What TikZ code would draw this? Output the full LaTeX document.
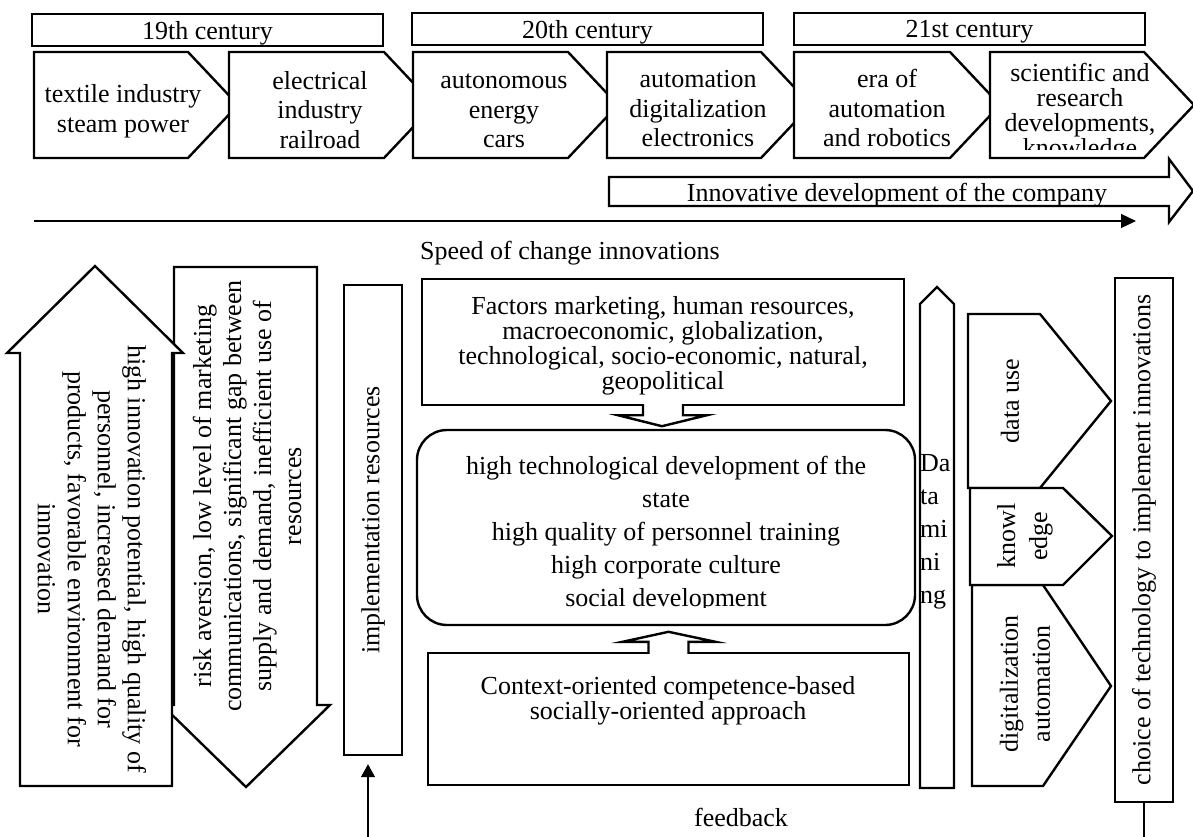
\documentclass[tikz,border=0pt]{standalone}
\usepackage{fontspec}
\usepackage{graphicx}
\setmainfont{Liberation Serif}
\usetikzlibrary{arrows.meta}
\newcommand{\fs}[1]{\fontsize{26}{#1}\selectfont}

\begin{document}
\begin{tikzpicture}
  [x=1pt, y=-1pt, line width=2.4pt,
   every node/.style={font=\fs{29.5}, align=center, inner sep=0pt},
   box/.style={draw, fill=white},
   fine/.style={line width=1.2pt}]
  \useasboundingbox (0,0) rectangle (1193,837);

  % centuries
  \node[box, minimum width=351, minimum height=32, text depth=0pt] (c19) at (207.5,30) {19th century};
  \node[box, minimum width=351, minimum height=32, text depth=0pt] (c20) at (587.5,29) {20th century};
  \node[box, minimum width=351, minimum height=32, text depth=0pt] (c21) at (969.5,29) {21st century};

  % eras
  \foreach \l/\r in {34/188, 229/384, 413/568, 607/761, 794/950, 990/1144}
    \draw[box] (\l,52) -- (\r,52) -- ({\r+50},105) -- (\r,158) -- (\l,158) -- cycle;
  \node (e1) at (123,111) {textile industry\\steam power};
  \node (e2) at (320,110) {electrical\\industry\\railroad};
  \node (e3) at (504,111) {autonomous\\energy\\cars};
  \node (e4) at (698,109) {automation\\digitalization\\electronics};
  \node (e5) at (887,108) {era of\\automation\\and robotics};
  \begin{scope}
    \clip (990,52) rectangle (1180,150);
    \node[font=\fs{25}] (e6) at (1080,113) {scientific and\\research\\developments,\\knowledge};
  \end{scope}

  % company
  \draw[box] (609,177) -- (1169,177) -- (1169,159) -- (1193,191) -- (1169,222) -- (1169,206) -- (609,206) -- cycle;
  \node (inno) at (897,195) {Innovative development of the company};

  % speed
  \coordinate (sp0) at (34,221);
  \coordinate (sp1) at (1136,221);
  \draw[fine, -{Triangle[length=15pt, width=14pt]}] (sp0) -- (sp1);
  \node (speed) at (570,253) {Speed of change innovations};

  % risk arrow, then potential arrow on top
  \draw[box] (174,267) -- (317,267) -- (317,705) -- (330,705) -- (246,787) -- (162,705) -- (174,705) -- cycle;
  \node[rotate=90, font=\fs{30}] (risk) at (247,496) {risk aversion, low level of marketing\\communications, significant gap between\\supply and demand, inefficient use of\\resources};
  \draw[box] (20,786) -- (20,353) -- (7,353) -- (95,266) -- (183,353) -- (172,353) -- (172,786) -- cycle;
  \node[rotate=-90, font=\fs{30}] (pot) at (92,559) {high innovation potential, high quality of\\personnel, increased demand for\\products, favorable environment for\\innovation};

  % implementation
  \node[box, minimum width=58, minimum height=470] (impl) at (373,520) {\rotatebox{90}{implementation resources}};
  \coordinate (fb0) at (368,837);
  \draw[fine, -{Triangle[length=13pt, width=14pt]}, shorten >=8pt] (fb0) -- (fb0 |- impl.south);

  % factors
  \node[box, minimum width=482, minimum height=126] (fac) at (663,342) {};
  \node[font=\fs{25}] (fact) at (663,346) {Factors marketing, human resources,\\macroeconomic, globalization,\\technological, socio-economic, natural,\\geopolitical};
  \draw[box] (fac.south) ++(-20,-2) -- ++(0,11) -- ++(-25,0) -- ++(44,11) -- ++(45,-11) -- ++(-24,0) -- ++(0,-11);

  % development
  \node[box, rounded corners=30, minimum width=498, minimum height=195] (dev) at (666,527.5) {};
  \begin{scope}
    \clip (420,435) rectangle (912,607);
    \node[font=\fs{33}] (devt) at (666,534) {high technological development of the\\state\\high quality of personnel training\\high corporate culture\\social development};
  \end{scope}

  % context
  \node[box, minimum width=481, minimum height=132] (ctx) at (668.5,719) {};
  \node[font=\fs{23}] (ctxt) at (668,701) {Context-oriented competence-based\\socially-oriented approach};
  \draw[box] (ctx.north) ++(-20,2) -- ++(0,-12) -- ++(-26,0) -- ++(46,-10) -- ++(47,10) -- ++(-27,0) -- ++(0,12);

  % data mining
  \draw[box] (920,788) -- (920,304) -- (937,287) -- (954,304) -- (954,788) -- cycle;
  \node[font=\fs{33}, align=left, anchor=west] (dm) at (919,532) {Da\\ta\\mi\\ni\\ng};

  % technologies
  \draw[box] (968,314) -- (1040,314) -- (1111,401) -- (1040,488) -- (968,488) -- cycle;
  \draw[box] (972,585) -- (1043,585) -- (1111,686) -- (1043,786) -- (972,786) -- cycle;
  \draw[box] (970,488) -- (1063,488) -- (1112,536) -- (1063,585) -- (970,585) -- cycle;
  \node[rotate=90] (use) at (1010,401) {data use};
  \node[rotate=90, font=\fs{32}] (know) at (1025,536) {knowl\\edge};
  \node[rotate=90, font=\fs{32}] (digi) at (1025,684) {digitalization\\automation};

  % choice
  \node[box, minimum width=58, minimum height=524] (choice) at (1144,540) {\rotatebox{90}{choice of technology to implement innovations}};
  \draw[fine] (choice.south) -- ++(0,35);
  \node (fb) at (741,817) {feedback};
\end{tikzpicture}
\end{document}
